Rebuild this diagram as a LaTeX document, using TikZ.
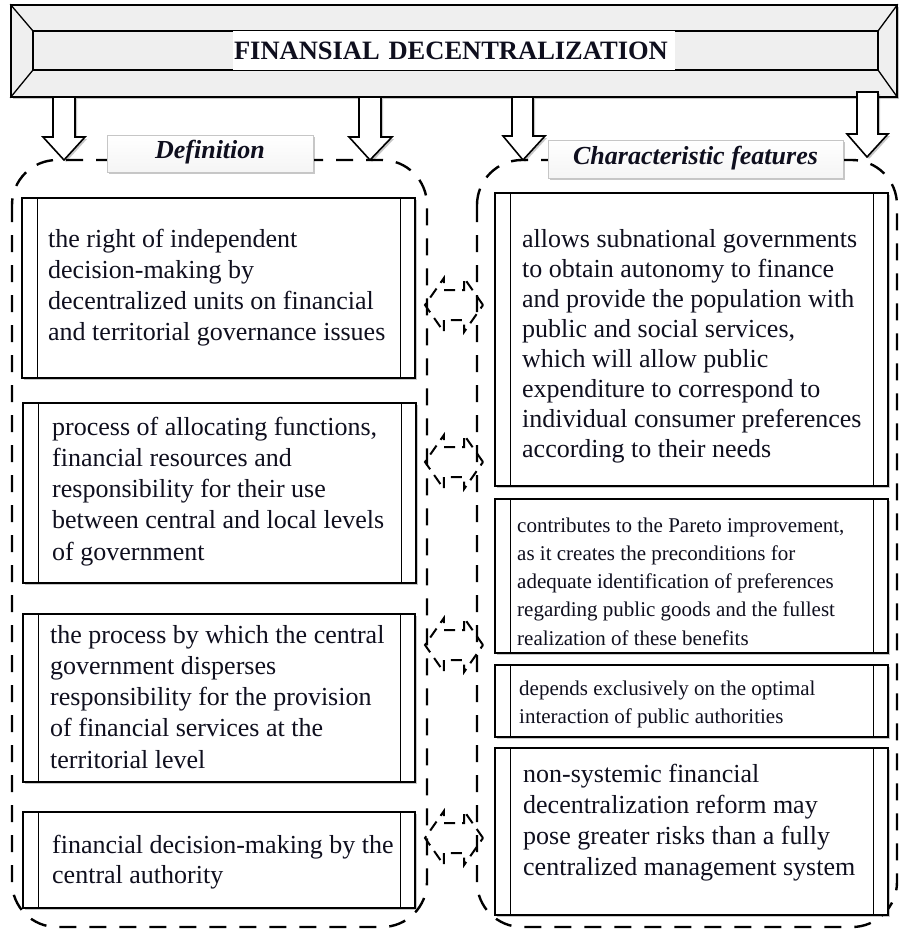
\documentclass[tikz,border=0pt]{standalone}
\usepackage{fontspec}
\setmainfont{Liberation Serif}
\usetikzlibrary{shapes.arrows,shadows}
\definecolor{bannerfill}{RGB}{239,239,239}
\definecolor{ink}{RGB}{15,15,30}
\begin{document}
\begin{tikzpicture}[x=1pt,y=-1pt,
  shd/.style={drop shadow={shadow xshift=2pt,shadow yshift=-2pt,opacity=0.22,fill=black}},
  grp/.style={draw=black,line width=2.4pt,dash pattern=on 17pt off 13pt,rounded corners=45pt},
  boxnode/.style={draw=black,line width=1.6pt,fill=white,shd,inner sep=0pt},
  innerline/.style={line width=1.3pt},
  labelbox/.style={draw=gray!45,line width=0.8pt,top color=white,bottom color=gray!8,shd,inner sep=0pt,
     font=\fontsize{26}{31}\selectfont\bfseries\itshape,text depth=8pt,text=ink},
  blockarrow/.style={draw=black,line width=1.6pt,fill=white,shd,line join=miter},
  txt/.style={anchor=north west,inner sep=0pt,align=left,font=\fontsize{26}{31}\selectfont,text=ink},
  linkarrow/.style={shape=double arrow,draw=black,line width=2pt,dash pattern=on 11pt off 7pt,
     minimum height=58pt,inner xsep=0pt,inner ysep=14pt,double arrow head extend=12pt,
     double arrow tip angle=110}
]
\useasboundingbox (0,0) rectangle (899,930);

% dashed groups
\draw[grp] (12,160) rectangle (427,927);
\draw[grp] (477,160) rectangle (897,927);

% banner
\node[draw=black,line width=1.6pt,fill=bannerfill,shd,inner sep=0pt,minimum width=886pt,minimum height=92pt] (banner) at (454,51) {};
\draw[line width=1.6pt] (33,31) rectangle (878,70);
\draw[line width=1.3pt] (banner.north west) -- (33,31) (banner.south west) -- (33,70)
  (banner.north east) -- (878,31) (banner.south east) -- (878,70);
\node[fill=white,inner ysep=0pt,inner xsep=0pt,text width=442pt,align=left,minimum height=39pt,text=ink,
  font=\fontsize{26.5}{31}\selectfont\bfseries] (title) at (454,50.5) {\hspace*{1pt}FINANSIAL DECENTRALIZATION};

% block arrows
\draw[blockarrow] (53,97) -- (53,137) -- (43,137) -- (64,160) -- (85,137) -- (75,137) -- (75,97) -- cycle;
\draw[blockarrow] (359,97) -- (359,137) -- (349,137) -- (370,160) -- (392,137) -- (381,137) -- (381,97) -- cycle;
\draw[blockarrow] (512,97) -- (512,136) -- (503,136) -- (523,160) -- (545,136) -- (533,136) -- (533,97) -- cycle;
\draw[blockarrow] (857,92) -- (857,134) -- (847,134) -- (867,157) -- (888,134) -- (878,134) -- (878,92) -- cycle;

% group labels
\node[labelbox,minimum width=206pt,minimum height=37pt] (deflabel) at (210,153.5) {Definition};
\node[labelbox,minimum width=295pt,minimum height=38pt] (charlabel) at (695.5,159) {Characteristic features};

% left boxes
\node[boxnode,minimum width=393pt,minimum height=180pt] (L1) at (218.5,288) {};
\node[boxnode,minimum width=393pt,minimum height=180pt] (L2) at (219.5,493) {};
\node[boxnode,minimum width=392pt,minimum height=168pt] (L3) at (219,698) {};
\node[boxnode,minimum width=392pt,minimum height=96pt] (L4) at (219,860) {};
% right boxes
\node[boxnode,minimum width=393pt,minimum height=293pt] (R1) at (691.5,339.5) {};
\node[boxnode,minimum width=393pt,minimum height=154pt] (R2) at (691.5,576) {};
\node[boxnode,minimum width=393pt,minimum height=72pt] (R3) at (691.5,701) {};
\node[boxnode,minimum width=393pt,minimum height=167pt] (R4) at (691.5,831.5) {};

\foreach \b in {L1,L2,L3,L4,R1,R2,R3,R4}{
  \draw[innerline] ([xshift=16.5pt]\b.north west) -- ([xshift=16.5pt]\b.south west);
  \draw[innerline] ([xshift=-15.5pt]\b.north east) -- ([xshift=-15.5pt]\b.south east);
}

% texts
\node[txt] (L1t) at (48,225.3) {\strut the right of independent\\decision-making by\\decentralized units on financial\\and territorial governance issues};
\node[txt,font=\fontsize{26}{31.25}\selectfont] (L2t) at (52,413.1) {\strut process of allocating functions,\\financial resources and\\responsibility for their use\\between central and local levels\\of government};
\node[txt,font=\fontsize{26}{31.25}\selectfont] (L3t) at (50,621.1) {\strut the process by which the central\\government disperses\\responsibility for the provision\\of financial services at the\\territorial level};
\node[txt,font=\fontsize{26}{30}\selectfont] (L4t) at (52,832) {\strut financial decision-making by the\\central authority};

\node[txt,font=\fontsize{26}{30}\selectfont] (R1t) at (522,226) {\strut allows subnational governments\\to obtain autonomy to finance\\and provide the population with\\public and social services,\\which will allow public\\expenditure to correspond to\\individual consumer preferences\\according to their needs};
\node[txt,font=\fontsize{21}{28.25}\selectfont] (R2t) at (517,512.2) {\strut contributes to the Pareto improvement,\\as it creates the preconditions for\\adequate identification of preferences\\regarding public goods and the fullest\\realization of these benefits};
\node[txt,font=\fontsize{21}{28}\selectfont] (R3t) at (519,675.4) {\strut depends exclusively on the optimal\\interaction of public authorities};
\node[txt,font=\fontsize{26}{31}\selectfont] (R4t) at (523,760.3) {\strut non-systemic financial\\decentralization reform may\\pose greater risks than a fully\\centralized management system};

% links between columns
\node[linkarrow] (c1) at (454,305) {};
\node[linkarrow] (c2) at (454,462) {};
\node[linkarrow] (c3) at (454,645) {};
\node[linkarrow] (c4) at (454,838) {};
\end{tikzpicture}
\end{document}
